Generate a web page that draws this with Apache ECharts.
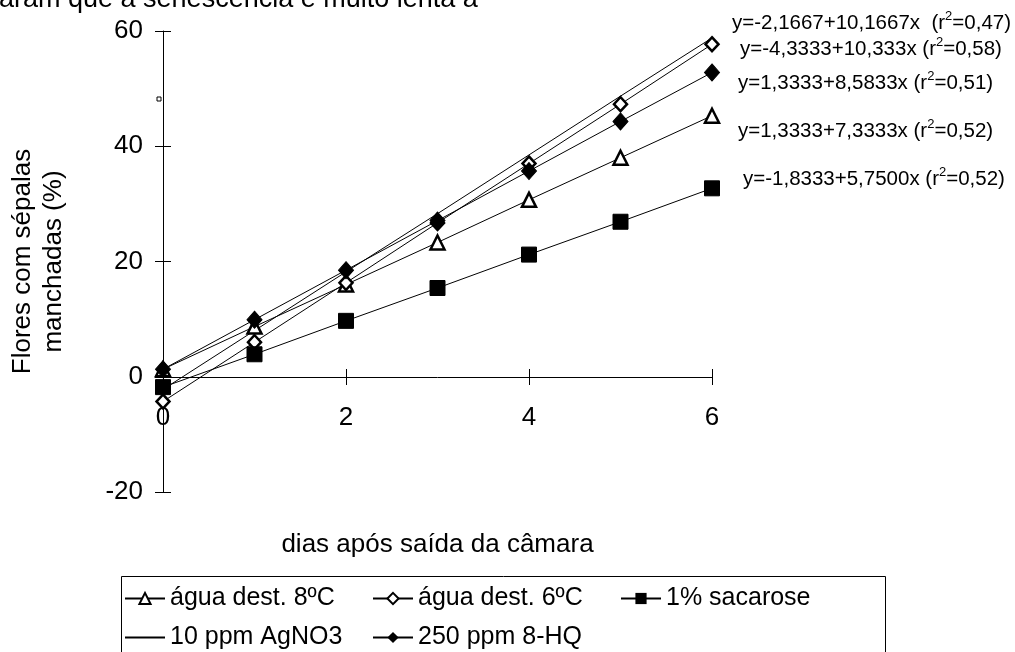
<!DOCTYPE html>
<html>
<head>
<meta charset="utf-8">
<script src="https://cdn.jsdelivr.net/npm/echarts@6/dist/echarts.min.js"></script>
<style>
html,body{margin:0;padding:0;background:#fff;}
#chart{width:1015px;height:652px;}
</style>
</head>
<body>
<div id="chart"></div>
<script>
const days = [0, 1, 2, 3, 4, 5, 6];
const xTicks = ['0', '2', '4', '6'];
const yTicks = ['-20', '0', '20', '40', '60'];
const seriesNames = ['água dest. 8ºC', 'água dest. 6ºC', '1% sacarose', '10 ppm AgNO3', '250 ppm 8-HQ'];
const agua8 = [1.3, 8.7, 16.0, 23.3, 30.7, 38.0, 45.3];
const agua6 = [-4.3, 6.0, 16.3, 26.7, 37.0, 47.3, 57.7];
const sacarose = [-1.8, 3.9, 9.7, 15.4, 21.2, 26.9, 32.7];
const agno3 = [-2.2, 8.0, 18.2, 28.3, 38.5, 48.7, 58.8];
const hq8 = [1.3, 9.9, 18.5, 27.1, 35.7, 44.3, 52.8];
const equations = [
  ['y=-2,1667+10,1667x  (r', '=0,47)'],
  ['y=-4,3333+10,333x (r', '=0,58)'],
  ['y=1,3333+8,5833x (r', '=0,51)'],
  ['y=1,3333+7,3333x (r', '=0,52)'],
  ['y=-1,8333+5,7500x (r', '=0,52)']
];
const topText = 'aram que a senescência é muito lenta a';
const xName = 'dias após saída da câmara';
const yName = 'Flores com sépalas\nmanchadas (%)';

const FONT = '"Liberation Sans", Arial, sans-serif';
const pair = arr => arr.map((v, i) => [days[i], v]);

const chart = echarts.init(document.getElementById('chart'), null, {renderer: 'canvas'});

const lineBase = {
  type: 'line',
  xAxisIndex: 0, yAxisIndex: 0,
  lineStyle: {color: '#000', width: 1},
  itemStyle: {color: '#000', borderColor: '#000'},
  emphasis: {disabled: true},
  animation: false
};

const eqPos = [[732, 22], [740, 48], [738, 82], [738, 130], [743, 178]];

const graphics = [
  {type: 'text', x: -1, y: 13, style: {text: topText, font: '27px ' + FONT, fill: '#000', verticalAlign: 'bottom'}},
  {type: 'rect', shape: {x: 157, y: 97, width: 4, height: 4}, style: {fill: '#fff', stroke: '#000', lineWidth: 1}},
  {type: 'rect', shape: {x: 121.5, y: 576.5, width: 764, height: 90}, style: {fill: 'none', stroke: '#000', lineWidth: 1}, z: 0}
];
equations.forEach((e, i) => {
  graphics.push({
    type: 'text', x: eqPos[i][0], y: eqPos[i][1],
    style: {
      text: '{a|' + e[0] + '}{s|2}{a|' + e[1] + '}',
      verticalAlign: 'middle',
      rich: {
        a: {fontSize: 20.5, fontFamily: FONT, fill: '#000', lineHeight: 24, verticalAlign: 'bottom'},
        s: {fontSize: 13, fontFamily: FONT, fill: '#000', lineHeight: 24, verticalAlign: 'top'}
      }
    }
  });
});

const legendText = {fontSize: 25, fontFamily: FONT, color: '#000'};
const legCommon = {orient: 'vertical', top: 586, itemWidth: 40, itemHeight: 14, itemGap: 14, textStyle: legendText, selectedMode: false, padding: 0};

chart.setOption({
  animation: false,
  backgroundColor: '#fff',
  grid: [
    {left: 163, right: 303, top: 31, bottom: 160, outerBoundsMode: 'none', containLabel: false},
    {left: 163, right: 303, top: 31, bottom: 275, outerBoundsMode: 'none', containLabel: false}
  ],
  legend: [
    Object.assign({}, legCommon, {left: 124, data: [seriesNames[0], {name: seriesNames[3], itemStyle: {opacity: 0}}]}),
    Object.assign({}, legCommon, {left: 372, data: [seriesNames[1], seriesNames[4]]}),
    Object.assign({}, legCommon, {left: 620, data: [seriesNames[2]]})
  ],
  xAxis: [
    {gridIndex: 0, type: 'value', min: 0, max: 6, interval: 2, show: false, splitLine: {show: false}},
    {gridIndex: 1, type: 'value', min: 0, max: 6, interval: 2,
     axisLine: {onZero: false, lineStyle: {color: '#000', width: 1}},
     axisTick: {show: true, length: 8, lineStyle: {color: '#000'}},
     axisLabel: {fontSize: 26, fontFamily: FONT, color: '#000', margin: 28, formatter: v => xTicks[v / 2]},
     splitLine: {show: false},
     name: xName, nameLocation: 'middle', nameGap: 155,
     nameTextStyle: {fontSize: 26, fontFamily: FONT, color: '#000'}},
    {gridIndex: 1, type: 'value', min: 0, max: 6, interval: 2, position: 'bottom',
     axisLine: {show: false, onZero: false},
     axisTick: {show: true, inside: true, length: 8, lineStyle: {color: '#000'}},
     axisLabel: {show: false}, splitLine: {show: false}}
  ],
  yAxis: [
    {gridIndex: 0, type: 'value', min: -20, max: 60, interval: 20,
     axisLine: {show: true, onZero: false, lineStyle: {color: '#000', width: 1}},
     axisTick: {show: true, length: 8, lineStyle: {color: '#000'}},
     axisLabel: {fontSize: 26, fontFamily: FONT, color: '#000', margin: 20, formatter: v => yTicks[(v + 20) / 20]},
     splitLine: {show: false},
     name: yName, nameLocation: 'middle', nameGap: 94, nameRotate: 90,
     nameTextStyle: {fontSize: 26, fontFamily: FONT, color: '#000', lineHeight: 31}},
    {gridIndex: 0, type: 'value', min: -20, max: 60, interval: 20, position: 'left',
     axisLine: {show: false, onZero: false},
     axisTick: {show: true, inside: true, length: 8, lineStyle: {color: '#000'}},
     axisLabel: {show: false}, splitLine: {show: false}},
    {gridIndex: 1, type: 'value', min: 0, max: 60, show: false, splitLine: {show: false}}
  ],
  series: [
    Object.assign({}, lineBase, {name: seriesNames[3], data: pair(agno3), symbol: 'none', z: 2}),
    Object.assign({}, lineBase, {name: seriesNames[0], data: pair(agua8), symbol: 'triangle', symbolSize: [14, 14],
      itemStyle: {color: '#fff', borderColor: '#000', borderWidth: 2.5}, z: 3}),
    Object.assign({}, lineBase, {name: seriesNames[1], data: pair(agua6), symbol: 'diamond', symbolSize: [13, 14],
      itemStyle: {color: '#fff', borderColor: '#000', borderWidth: 2.5}, z: 3}),
    Object.assign({}, lineBase, {name: seriesNames[2], data: pair(sacarose), symbol: 'rect', symbolSize: 15,
      itemStyle: {color: '#000', borderColor: '#000'}, z: 3}),
    Object.assign({}, lineBase, {name: seriesNames[4], data: pair(hq8), symbol: 'diamond', symbolSize: [15, 17],
      itemStyle: {color: '#000', borderColor: '#000'}, z: 3})
  ],
  graphic: graphics
});
</script>
</body>
</html>
